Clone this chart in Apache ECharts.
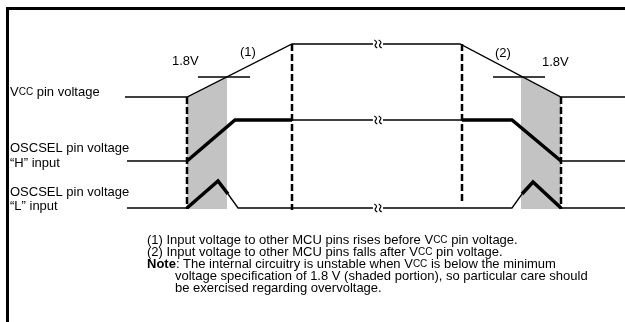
<!DOCTYPE html>
<html><head><meta charset="utf-8">
<script src="https://cdn.jsdelivr.net/npm/echarts@6/dist/echarts.min.js"></script>
<style>html,body{margin:0;padding:0;background:#fff}#c{width:625px;height:322px}</style>
</head><body><div id="c"></div>
<script>
// Time positions (x) and signal levels (y, drawn downward) of the timing diagram
const vccTime   = [125, 187, 292, 460, 561, 625];
const vccLevel  = [97, 97, 44, 44, 97, 97];

const th18Left  = [[198, 77], [250, 77]];
const th18Right = [[493, 77], [545, 77]];

const shadeLeft  = [[187, 97], [227, 77], [227, 209], [187, 209]];
const shadeRight = [[521, 76], [561, 97], [561, 209], [521, 209]];

const hThin  = [
  [[127, 161], [187, 161]],
  [[292, 120], [462, 120]],
  [[561, 161], [625, 161]]
];
const hThick = [
  [[187, 161], [235, 120], [292, 120]],
  [[462, 120], [512, 120], [561, 161]]
];
const lThin  = [
  [[127, 208], [187, 208]],
  [[228, 194], [238, 208], [512, 208], [522, 194]],
  [[561, 208], [625, 208]]
];
const lThick = [
  [[187, 208], [218, 181], [228, 194]],
  [[522, 194], [533, 182], [561, 208]]
];
const dashLines = [
  [[187, 97], [187, 209]],
  [[292, 44], [292, 210]],
  [[462, 44], [462, 203]],
  [[561, 97], [561, 209]]
];
const breakMarks = [[378, 44], [378, 120], [378, 208]];

const FONT = '"Liberation Sans", Arial, sans-serif';
const FS = 13, FSS = 10;
const chart = echarts.init(document.getElementById('c'), null, {renderer: 'canvas'});

function lineSeries(data, width, type, z) {
  return {
    type: 'line', data: data, symbol: 'none', silent: true, animation: false, z: z || 3,
    lineStyle: {color: '#000', width: width, type: type || 'solid', cap: 'butt', join: 'miter'}
  };
}

const series = [];
series.push({
  type: 'custom', animation: false, silent: true, z: 1,
  data: [0, 1],
  renderItem: function (params, api) {
    const poly = params.dataIndex === 0 ? shadeLeft : shadeRight;
    return {type: 'polygon', shape: {points: poly.map(p => api.coord(p))}, style: {fill: '#c3c3c3'}};
  }
});
series.push(lineSeries(vccTime.map((t, i) => [t, vccLevel[i]]), 1.3));
series.push(lineSeries(th18Left, 1.3));
series.push(lineSeries(th18Right, 1.3));
hThin.forEach(d => series.push(lineSeries(d, 1.3)));
lThin.forEach(d => series.push(lineSeries(d, 1.3)));
hThick.forEach(d => series.push(lineSeries(d, 3.5, 'solid', 4)));
lThick.forEach(d => series.push(lineSeries(d, 3.5, 'solid', 4)));
dashLines.forEach(d => series.push(lineSeries(d, 2.5, [7, 3], 5)));
series.push({
  type: 'custom', animation: false, silent: true, z: 6,
  data: breakMarks,
  renderItem: function (params, api) {
    const c = api.coord([api.value(0), api.value(1)]);
    const x = c[0], y = c[1];
    const wave = dx => ({
      type: 'path',
      shape: {pathData: `M${x + dx - 1.5} ${y - 4} Q${x + dx + 2} ${y - 2} ${x + dx} ${y} Q${x + dx - 2} ${y + 2} ${x + dx + 1.5} ${y + 4}`},
      style: {stroke: '#000', lineWidth: 1.2, fill: null}
    });
    return {type: 'group', children: [
      {type: 'rect', shape: {x: x - 5, y: y - 3, width: 10, height: 6}, style: {fill: '#fff'}},
      wave(-2.2), wave(2.2)
    ]};
  }
});

const rich = {
  a: {font: FS + 'px ' + FONT, fill: '#000'},
  b: {font: FSS + 'px ' + FONT, fill: '#000'},
  n: {font: 'bold ' + FS + 'px ' + FONT, fill: '#000'}
};
function txt(x, y, text) {
  return {type: 'text', z: 10, silent: true, style: {x: x, y: y, text: text, verticalAlign: 'middle', rich: rich, font: FS + 'px ' + FONT, fill: '#000'}};
}

const graphics = [
  {type: 'rect', z: 10, shape: {x: 6, y: 7, width: 619, height: 3}, style: {fill: '#000'}},
  {type: 'rect', z: 10, shape: {x: 6, y: 7, width: 3, height: 315}, style: {fill: '#000'}},
  txt(172, 61, '1.8V'),
  txt(240, 52, '(1)'),
  txt(495, 53, '(2)'),
  txt(542, 62, '1.8V'),
  txt(10, 92, '{a|V}{b|CC}{a| pin voltage}'),
  txt(10, 148, 'OSCSEL pin voltage'),
  txt(10, 163, '\u201CH\u201D input'),
  txt(10, 192, 'OSCSEL pin voltage'),
  txt(10, 206, '\u201CL\u201D input'),
  txt(147, 240, '{a|(1) Input voltage to other MCU pins rises before V}{b|CC}{a| pin voltage.}'),
  txt(147, 252, '{a|(2) Input voltage to other MCU pins falls after V}{b|CC}{a| pin voltage.}'),
  txt(147, 264, '{n|Note}{a|: The internal circuitry is unstable when V}{b|CC}{a| is below the minimum}'),
  txt(175, 276, 'voltage specification of 1.8 V (shaded portion), so particular care should'),
  txt(175, 288, 'be exercised regarding overvoltage.')
];

chart.setOption({
  animation: false,
  backgroundColor: '#fff',
  grid: {left: 0, right: 0, top: 0, bottom: 0},
  xAxis: {type: 'value', min: 0, max: 625, show: false},
  yAxis: {type: 'value', min: 0, max: 322, inverse: true, show: false},
  series: series,
  graphic: graphics
});
</script></body></html>
